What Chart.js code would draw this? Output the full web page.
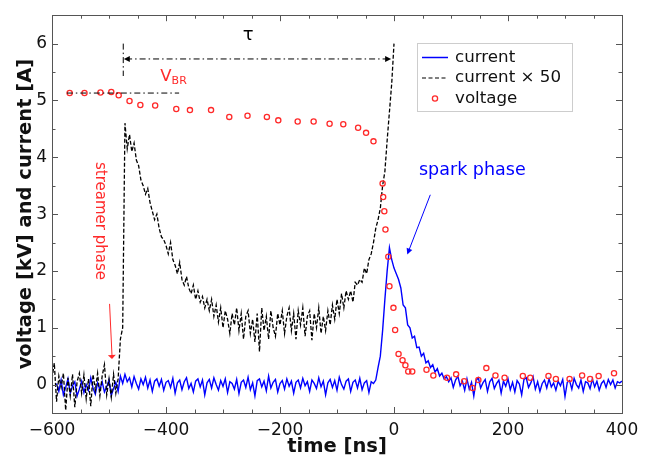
<!DOCTYPE html>
<html><head><meta charset="utf-8">
<script src="https://cdn.jsdelivr.net/npm/chart.js@4/dist/chart.umd.min.js"></script>
<style>html,body{margin:0;padding:0;background:#fff}canvas{display:block}</style>
</head><body><canvas id="c" width="648" height="462"></canvas>
<script>
// ---------- data ----------
const xTickLabels = [-600, -400, -200, 0, 200, 400];
const yTickLabels = [0, 1, 2, 3, 4, 5, 6];

// oscilloscope sampling of the current traces (ns)
const currentStart = -592, currentStep = 4;
const currentValues = [
  0.02,-0.12,0.08,-0.18,-0.05,0.1,-0.15,-0.02,0.05,-0.2,
  -0.08,0.06,-0.14,0.0,-0.1,0.12,-0.06,-0.17,0.03,-0.09,
  0.05,-0.13,-0.04,0.08,-0.19,-0.07,0.04,-0.12,0.15,0.02,
  0.18,0.05,0.12,-0.04,0.14,0.02,-0.08,0.1,0.0,0.13,
  -0.06,0.08,-0.12,0.06,0.1,-0.03,0.09,-0.1,0.04,0.07,
  -0.05,0.11,-0.15,0.03,0.08,-0.09,0.05,0.12,-0.07,0.02,
  -0.13,0.06,0.1,-0.04,0.08,-0.18,0.03,0.09,-0.06,0.12,
  0.0,-0.1,0.07,-0.03,0.1,-0.14,0.05,0.02,-0.08,0.09,
  -0.16,0.04,0.08,-0.05,0.13,-0.09,0.03,-0.2,0.07,0.1,
  -0.04,0.06,-0.11,0.15,-0.06,0.04,0.09,-0.13,0.02,0.07,
  -0.08,0.1,-0.03,0.06,-0.15,0.04,0.08,-0.06,0.11,-0.02,
  0.05,-0.12,0.08,0.02,-0.07,0.12,-0.04,0.06,-0.18,0.03,
  0.09,-0.05,0.07,-0.1,0.13,0.0,-0.08,0.06,0.1,-0.12,
  0.04,0.08,-0.06,0.11,-0.09,0.03,0.07,-0.14,0.05,0.02,
  0.08,0.3,0.5,0.95,1.5,2.0,2.41,2.2,2.05,1.95,
  1.85,1.7,1.4,1.35,1.05,1.0,0.82,0.85,0.65,0.66,
  0.5,0.55,0.38,0.42,0.3,0.35,0.22,0.28,0.15,0.2,
  0.1,0.14,0.05,0.12,-0.05,0.08,0.15,-0.02,0.06,-0.1,
  0.1,-0.08,0.04,-0.2,0.07,0.12,-0.06,0.03,0.09,-0.12,
  0.05,0.11,-0.07,0.02,0.08,-0.15,0.06,-0.03,0.1,-0.09,
  0.04,-0.13,0.07,0.01,-0.18,0.09,0.12,-0.05,0.03,0.14,
  -0.08,0.05,-0.12,0.02,0.08,-0.06,0.1,-0.04,0.03,-0.1,
  0.06,-0.02,0.09,-0.21,0.04,0.07,-0.08,0.11,0.0,-0.06,
  0.08,-0.12,0.05,0.03,-0.07,0.1,-0.04,0.06,-0.1,0.02,
  0.07,-0.05,0.09,0.0,0.08,-0.06,0.05,0.03,0.06
];

const current50Start = -600, current50Step = 4;
const current50Values = [
  0.1,0.38,-0.3,0.15,-0.05,0.2,-0.45,0.12,-0.2,0.18,
  -0.4,0.05,0.2,-0.15,0.17,-0.25,0.1,-0.38,0.18,-0.1,
  0.2,-0.2,0.15,0.35,-0.18,0.1,-0.22,0.18,-0.15,0.1,
  0.8,1.0,4.6,4.15,4.4,4.1,4.25,3.95,3.85,3.6,
  3.5,3.35,3.45,3.2,3.05,2.9,3.0,2.75,2.6,2.55,
  2.45,2.3,2.5,2.2,2.1,1.95,2.15,1.85,1.75,1.9,
  1.7,1.6,1.75,1.5,1.65,1.45,1.55,1.35,1.5,1.3,
  1.5,1.2,1.4,1.1,1.35,1.0,1.3,1.15,0.9,1.25,
  1.05,1.35,0.95,1.25,0.8,1.2,1.3,0.9,1.15,0.75,
  1.25,0.58,1.35,0.95,1.2,0.8,1.3,1.0,0.85,1.25,
  1.05,1.3,0.9,1.2,1.35,0.95,1.25,0.8,1.3,1.05,
  1.35,0.85,1.2,1.3,0.78,1.25,1.0,1.35,0.9,1.2,
  0.95,1.3,1.05,1.4,1.15,1.5,1.25,1.6,1.35,1.65,
  1.5,1.65,1.45,1.8,1.75,1.85,1.8,2.05,1.95,2.2,
  2.3,2.5,2.75,2.9,3.1,3.5,3.75,4.3,4.8,5.3,
  6.0
];

const voltageTimes = [
  -569,-543,-515,-496,-483,-464,-445,-419,-382,-358,-321,-289,-257,-223,-203,-169,-141,-113,-89,-63,-49,-36,
  -20,-19,-17,-15,-10,-8,-1,2,8,15,20,25,32,57,69,93,109,123,138,148,162,178,194,226,239,271,284,308,330,344,359,386
];
const voltageValues = [
  5.13,5.13,5.14,5.15,5.09,4.99,4.92,4.91,4.85,4.83,4.83,4.71,4.73,4.71,4.65,4.63,4.63,4.59,4.58,4.52,4.43,4.28,
  3.54,3.30,3.05,2.73,2.25,1.73,1.35,0.96,0.54,0.43,0.34,0.23,0.23,0.26,0.16,0.12,0.18,0.06,-0.06,0.08,0.29,0.16,0.12,0.15,0.12,0.15,0.10,0.10,0.16,0.10,0.15,0.20
];

const legendLabels = ['current', 'current \u00d7 50', 'voltage'];
const xTitle = 'time [ns]';
const yTitle = 'voltage [kV] and current [A]';

// ---------- build datasets ----------
const currentData = currentValues.map((v, i) => ({x: currentStart + i * currentStep, y: v}));
const current50Data = current50Values.map((v, i) => ({x: current50Start + i * current50Step, y: v}));
const voltageData = voltageTimes.map((t, i) => ({x: t, y: voltageValues[i]}));

const FONT = '"DejaVu Sans", "Liberation Sans", sans-serif';
const BLUE = '#0000ff', RED = '#ff2a2a', FRAME = '#555555';

function arrowHead(ctx, x1, y1, x2, y2, len, half) {
  const a = Math.atan2(y2 - y1, x2 - x1);
  ctx.beginPath();
  ctx.moveTo(x2, y2);
  ctx.lineTo(x2 - len * Math.cos(a) + half * Math.sin(a), y2 - len * Math.sin(a) - half * Math.cos(a));
  ctx.lineTo(x2 - len * Math.cos(a) - half * Math.sin(a), y2 - len * Math.sin(a) + half * Math.cos(a));
  ctx.closePath();
  ctx.fill();
}

const decor = {
  id: 'decor',
  afterDraw(chart) {
    const {ctx, chartArea: a, scales: {x, y}} = chart;
    const X = v => x.getPixelForValue(v), Y = v => y.getPixelForValue(v);
    ctx.save();
    // frame
    ctx.strokeStyle = FRAME; ctx.lineWidth = 1; ctx.setLineDash([]);
    ctx.strokeRect(Math.round(a.left) + 0.5, Math.round(a.top) + 0.5, Math.round(a.right - a.left), Math.round(a.bottom - a.top));
    // ticks (inward) on all four sides
    ctx.beginPath();
    for (let t = -600; t <= 400; t += 50) {
      const len = (t % 200 === 0) ? 6 : 3.5;
      const px = Math.round(X(t)) + 0.5;
      ctx.moveTo(px, a.bottom); ctx.lineTo(px, a.bottom - len);
      ctx.moveTo(px, a.top); ctx.lineTo(px, a.top + len);
    }
    for (let k = -1; k <= 13; k++) {
      const v = k / 2;
      const len = (k % 2 === 0) ? 6 : 3.5;
      const py = Math.round(Y(v)) + 0.5;
      ctx.moveTo(a.left, py); ctx.lineTo(a.left + len, py);
      ctx.moveTo(a.right, py); ctx.lineTo(a.right - len, py);
    }
    ctx.stroke();

    // axis titles
    ctx.fillStyle = '#111';
    ctx.font = 'bold 19.5px ' + FONT;
    ctx.textAlign = 'center'; ctx.textBaseline = 'middle';
    ctx.fillText(xTitle, (a.left + a.right) / 2, 447);
    ctx.save();
    ctx.translate(26, (a.top + a.bottom) / 2);
    ctx.rotate(-Math.PI / 2);
    ctx.fillText(yTitle, 0, 0);
    ctx.restore();

    // tau annotation
    ctx.strokeStyle = '#000'; ctx.fillStyle = '#000'; ctx.lineWidth = 1;
    ctx.setLineDash([6, 3, 1.5, 3]);
    ctx.beginPath();
    ctx.moveTo(X(-475), Y(6.0)); ctx.lineTo(X(-475), Y(5.43));
    ctx.moveTo(X(-470), Y(5.73)); ctx.lineTo(X(-10), Y(5.73));
    ctx.moveTo(X(-574), Y(5.13)); ctx.lineTo(X(-377), Y(5.13));
    ctx.stroke();
    ctx.setLineDash([]);
    arrowHead(ctx, X(-400), Y(5.73), X(-474), Y(5.73), 6, 3);
    arrowHead(ctx, X(-100), Y(5.73), X(-5), Y(5.73), 6, 3);
    ctx.font = '18px ' + FONT;
    ctx.textAlign = 'center'; ctx.textBaseline = 'middle';
    ctx.fillText('\u03c4', X(-256), Y(6.14));

    // V_BR
    ctx.fillStyle = RED;
    ctx.textAlign = 'left'; ctx.textBaseline = 'alphabetic';
    ctx.font = '16.5px ' + FONT;
    ctx.fillText('V', X(-410), 80.5);
    const vw = ctx.measureText('V').width;
    ctx.font = '11px ' + FONT;
    ctx.fillText('BR', X(-410) + vw, 84);

    // streamer phase
    ctx.font = '15px ' + FONT;
    ctx.save();
    ctx.translate(100, 221);
    ctx.rotate(Math.PI / 2);
    ctx.textAlign = 'center'; ctx.textBaseline = 'middle';
    ctx.fillText('streamer phase', 0, 0);
    ctx.restore();
    ctx.strokeStyle = RED; ctx.lineWidth = 1;
    ctx.beginPath();
    ctx.moveTo(X(-499), Y(1.42)); ctx.lineTo(X(-494.7), Y(0.5));
    ctx.stroke();
    arrowHead(ctx, X(-499), Y(1.42), X(-494.7), Y(0.45), 4, 4);

    // spark phase
    ctx.fillStyle = BLUE; ctx.strokeStyle = BLUE;
    ctx.font = '17.5px ' + FONT;
    ctx.textAlign = 'left'; ctx.textBaseline = 'middle';
    ctx.fillText('spark phase', 419, 170);
    ctx.beginPath();
    ctx.moveTo(X(63.7), Y(3.34)); ctx.lineTo(X(24.5), Y(2.32));
    ctx.stroke();
    arrowHead(ctx, X(63.7), Y(3.34), X(23.3), Y(2.29), 6, 3);

    // legend
    const L = 417, T = 43.5, R = 572, B = 111.5;
    ctx.strokeStyle = '#9a9a9a'; ctx.lineWidth = 1; ctx.setLineDash([1, 1]);
    ctx.strokeRect(L + 0.5, T, R - L, B - T);
    ctx.setLineDash([]);
    ctx.lineWidth = 1.5; ctx.strokeStyle = BLUE;
    ctx.beginPath(); ctx.moveTo(422, 57.5); ctx.lineTo(448, 57.5); ctx.stroke();
    ctx.strokeStyle = '#000'; ctx.lineWidth = 1.2; ctx.setLineDash([4, 2.5]);
    ctx.beginPath(); ctx.moveTo(422, 78); ctx.lineTo(448, 78); ctx.stroke();
    ctx.setLineDash([]);
    ctx.strokeStyle = RED; ctx.lineWidth = 1.3;
    ctx.beginPath(); ctx.arc(435, 98.5, 2.6, 0, Math.PI * 2); ctx.stroke();
    ctx.fillStyle = '#111';
    ctx.font = '16.7px ' + FONT;
    ctx.textAlign = 'left'; ctx.textBaseline = 'middle';
    ctx.fillText(legendLabels[0], 455, 57.5);
    ctx.fillText(legendLabels[1], 455, 78);
    ctx.fillText(legendLabels[2], 455, 98.5);
    ctx.restore();
  }
};

const minus = v => (v < 0 ? '\u2212' + Math.abs(v) : String(v));

new Chart(document.getElementById('c'), {
  type: 'line',
  data: {
    datasets: [
      {label: legendLabels[2], data: voltageData, showLine: false, order: 0,
       pointStyle: 'circle', pointRadius: 2.6, pointBorderWidth: 1.3,
       borderColor: RED, pointBorderColor: RED, backgroundColor: 'rgba(0,0,0,0)', pointBackgroundColor: 'rgba(0,0,0,0)'},
      {label: legendLabels[1], data: current50Data, order: 1, borderColor: '#000', borderWidth: 1.3,
       borderDash: [4, 2], pointRadius: 0, tension: 0, fill: false},
      {label: legendLabels[0], data: currentData, order: 2, borderColor: BLUE, borderWidth: 1.4,
       pointRadius: 0, tension: 0, fill: false}
    ]
  },
  options: {
    responsive: false, animation: false, devicePixelRatio: 1,
    layout: {padding: {top: 12, right: 26, left: 0, bottom: 0}},
    plugins: {legend: {display: false}, tooltip: {enabled: false}},
    scales: {
      x: {
        type: 'linear', min: -600, max: 400,
        grid: {display: false, drawTicks: false}, border: {display: false},
        afterBuildTicks: s => { s.ticks = xTickLabels.map(v => ({value: v})); },
        afterFit: s => { s.height = 49; },
        ticks: {autoSkip: false, maxRotation: 0, padding: 7, color: '#111',
                font: {family: FONT, size: 17}, callback: v => minus(v)}
      },
      y: {
        type: 'linear', min: -0.5, max: 6.5,
        grid: {display: false, drawTicks: false}, border: {display: false},
        afterBuildTicks: s => { s.ticks = yTickLabels.map(v => ({value: v})); },
        afterFit: s => { s.width = 52; },
        ticks: {autoSkip: false, padding: 5, color: '#111',
                font: {family: FONT, size: 17}, callback: v => minus(v)}
      }
    }
  },
  plugins: [decor]
});
</script>
</body></html>
